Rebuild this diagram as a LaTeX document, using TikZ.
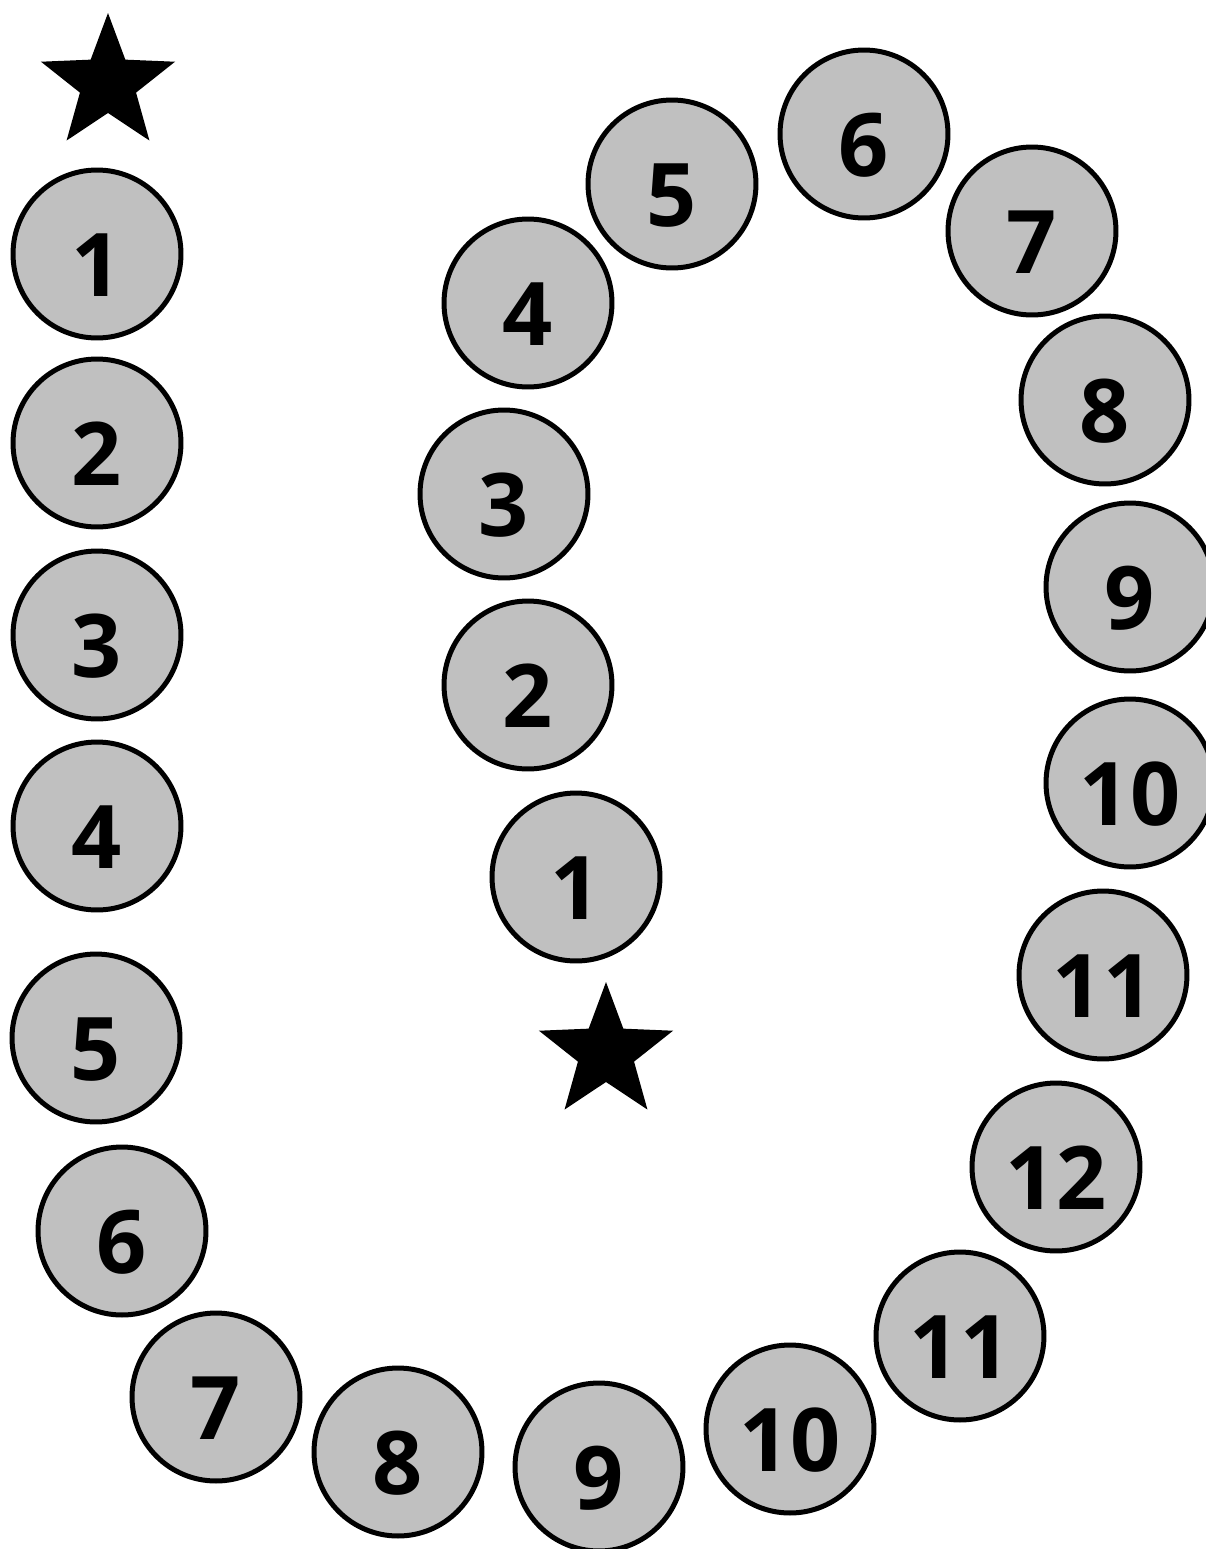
\documentclass[tikz,border=0pt]{standalone}
\usepackage{fontspec}
\newfontfamily\numfont{Open Sans}
\usepackage{tikz}
\usetikzlibrary{shapes.geometric}
\definecolor{ballgray}{RGB}{192,192,192}
\tikzset{
  ball/.style={draw, circle, line width=0.1cm, fill=ballgray, minimum size=3.36cm, inner sep=0pt,
    font=\numfont\bfseries\fontsize{50}{50}\selectfont, text height=1.7cm, text depth=0cm},
  starnode/.style={star, star points=5, star point ratio=2.39, fill=black, minimum size=2.82cm, inner sep=0pt},
}

\begin{document}
\begin{tikzpicture}[x=0.02cm, y=-0.02cm]
  \useasboundingbox (0,0) rectangle (1206,1549);

  % counting up: down the left side and round the bottom
  \node[starnode] (sa) at (108,83.5) {};
  \foreach \n/\x/\y in {1/97/254, 2/97/443, 3/97/635, 4/97/826, 5/96/1038, 6/122/1231,
                        7/216/1397, 8/398/1452, 9/599/1467, 10/790/1429, 11/960/1336, 12/1056/1167}{
    \node[ball] (u\n) at (\x,\y) {\n};
  }

  % counting down: up the right side and back into the middle
  \foreach \n/\x/\y in {11/1103/975, 10/1130/783, 9/1130/587, 8/1105/400, 7/1032/231, 6/864/134,
                        5/672/184, 4/528/303, 3/504/494, 2/528/685, 1/576/877}{
    \node[ball] (d\n) at (\x,\y) {\n};
  }
  \node[starnode] (sb) at (606,1052.5) {};
\end{tikzpicture}
\end{document}
